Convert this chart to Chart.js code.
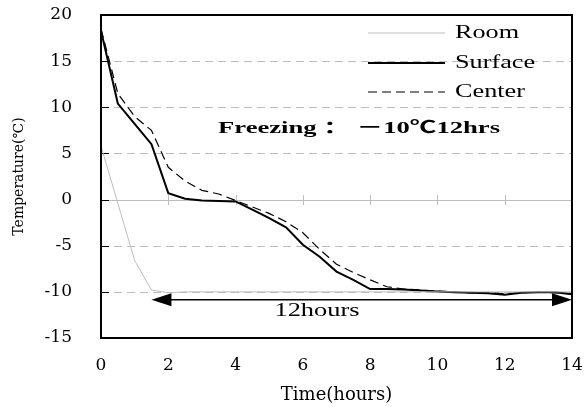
<!DOCTYPE html>
<html><head><meta charset="utf-8">
<script src="https://cdn.jsdelivr.net/npm/chart.js@4"></script>
<style>html,body{margin:0;padding:0;background:#fff}#wrap{width:584px;height:407px}</style>
</head><body><div id="wrap"><canvas id="c" width="584" height="407"></canvas></div>
<script>
const hours = [0,0.5,1,1.5,2,2.5,3,3.5,4,4.5,5,5.5,6,6.5,7,7.5,8,8.5,9,9.5,10,10.5,11,11.5,12,12.5,13,13.5,14];
const roomTemp = [5.8,-0.4,-6.6,-9.8,-10.1,-10.0,-10.0,-10.0,-10.0,-10.0,-10.0,-10.0,-10.0,-10.0,-10.0,-10.0,-10.0,-10.0,-10.0,-10.0,-10.0,-10.0,-10.0,-10.0,-10.0,-10.0,-10.0,-10.0,-10.0];
const surfaceTemp = [18.3,10.4,8.2,6.0,0.7,0.1,-0.1,-0.15,-0.2,-1.1,-2.0,-3.0,-4.9,-6.2,-7.8,-8.7,-9.7,-9.7,-9.75,-9.85,-9.95,-10.05,-10.1,-10.15,-10.3,-10.1,-10.05,-10.05,-10.25];
const centerTemp = [18.5,11.5,9.0,7.5,3.5,2.0,1.0,0.6,-0.1,-0.8,-1.5,-2.4,-3.6,-5.4,-7.0,-7.9,-8.7,-9.45,-9.7,-9.8,-9.9,-10.0,-10.1,-10.1,-10.2,-10.1,-10.05,-10.1,-10.2];
const seriesNames = ['Room','Surface','Center'];
const xTickValues = [0,2,4,6,8,10,12,14];
const yTickValues = [-15,-10,-5,0,5,10,15,20];
const arrowSpan = [1.5, 14];
const arrowLevel = [-10.85];
const noteText = 'Freezing ： －10℃12hrs';
const spanText = '12hours';
const xTitle = 'Time(hours)';
const yTitle = 'Temperature(℃)';

const SERIF = '"DejaVu Serif", "Liberation Serif", "Noto Sans CJK SC", serif';
const TIMES = '"Liberation Serif", "Noto Sans CJK SC", serif';
const toPts = arr => hours.map((h,i)=>({x:h,y:arr[i]}));

function stretchedText(ctx, text, cx, cy, font, targetW){
  ctx.save();
  ctx.font = font;
  ctx.textAlign = 'center'; ctx.textBaseline = 'middle';
  const w = ctx.measureText(text).width;
  const k = targetW / w;
  ctx.translate(cx, cy);
  ctx.scale(k, 1);
  ctx.fillText(text, 0, 0);
  ctx.restore();
}

const decor = {
  id:'decor',
  beforeDatasetsDraw(chart){
    const {ctx, chartArea:a, scales:{x,y}} = chart;
    ctx.save();
    yTickValues.forEach(v=>{
      if (v===yTickValues[0] || v===yTickValues[yTickValues.length-1]) return;
      const py = Math.round(y.getPixelForValue(v))+0.5;
      ctx.beginPath();
      ctx.lineWidth = 1;
      ctx.strokeStyle = '#bdbdbd';
      ctx.setLineDash(v===0 ? [] : [8,5]);
      ctx.moveTo(a.left, py); ctx.lineTo(a.right, py); ctx.stroke();
    });
    ctx.setLineDash([]);
    const y0 = Math.round(y.getPixelForValue(0));
    ctx.strokeStyle = '#bdbdbd';
    xTickValues.forEach(v=>{
      const px = Math.round(x.getPixelForValue(v))+0.5;
      ctx.beginPath(); ctx.moveTo(px, y0-5); ctx.lineTo(px, y0+5); ctx.stroke();
    });
    ctx.strokeStyle = '#000';
    yTickValues.forEach(v=>{
      const py = Math.round(y.getPixelForValue(v))+0.5;
      ctx.beginPath(); ctx.moveTo(a.left, py); ctx.lineTo(a.left+8, py); ctx.stroke();
    });
    ctx.restore();
  },
  afterDatasetsDraw(chart){
    const {ctx, chartArea:a, scales:{x,y}} = chart;
    ctx.save();
    ctx.strokeStyle = '#000'; ctx.lineWidth = 2;
    ctx.strokeRect(a.left, a.top, a.right-a.left, a.bottom-a.top);
    const ay = y.getPixelForValue(arrowLevel[0]);
    const x1 = x.getPixelForValue(arrowSpan[0]);
    const x2 = x.getPixelForValue(arrowSpan[1]);
    const L = 20, H = 6.5;
    ctx.lineWidth = 1.5;
    ctx.beginPath(); ctx.moveTo(x1+L-2, ay); ctx.lineTo(x2-L+2, ay); ctx.stroke();
    ctx.fillStyle = '#000';
    ctx.beginPath(); ctx.moveTo(x1, ay); ctx.lineTo(x1+L, ay-H); ctx.lineTo(x1+L, ay+H); ctx.closePath(); ctx.fill();
    ctx.beginPath(); ctx.moveTo(x2, ay); ctx.lineTo(x2-L, ay-H); ctx.lineTo(x2-L, ay+H); ctx.closePath(); ctx.fill();
    ctx.fillStyle = '#000';
    stretchedText(ctx, spanText, x.getPixelForValue(6.42), y.getPixelForValue(-12.1), '19px ' + TIMES, 85);
    stretchedText(ctx, noteText, x.getPixelForValue(7.67), y.getPixelForValue(7.73), 'bold 17px ' + TIMES, 282);
    const ds = chart.data.datasets;
    const rows = [33, 63, 92];
    ds.forEach((d,i)=>{
      ctx.beginPath();
      ctx.strokeStyle = d.borderColor; ctx.lineWidth = d.borderWidth;
      ctx.setLineDash(d.borderDash || []);
      ctx.moveTo(368, rows[i]); ctx.lineTo(445, rows[i]); ctx.stroke();
      ctx.setLineDash([]);
      ctx.save();
      ctx.font = '19px ' + TIMES;
      ctx.textAlign = 'left'; ctx.textBaseline = 'middle';
      ctx.translate(455, rows[i]); ctx.scale(1.38, 1);
      ctx.fillText(d.label, 0, 0);
      ctx.restore();
    });
    ctx.restore();
  }
};

new Chart(document.getElementById('c'), {
  type: 'line',
  data: {
    datasets: [
      {label: seriesNames[0], data: toPts(roomTemp), borderColor:'#bdbdbd', borderWidth:1, pointRadius:0, tension:0},
      {label: seriesNames[1], data: toPts(surfaceTemp), borderColor:'#000', borderWidth:2, pointRadius:0, tension:0},
      {label: seriesNames[2], data: toPts(centerTemp), borderColor:'#000', borderWidth:1.2, borderDash:[9,5], pointRadius:0, tension:0}
    ]
  },
  options: {
    responsive:false, animation:false, devicePixelRatio:1,
    layout:{padding:{top:15,right:12,left:0,bottom:0}},
    plugins:{legend:{display:false}, tooltip:{enabled:false}},
    scales:{
      x:{type:'linear', min:0, max:14,
         afterBuildTicks: s => { s.ticks = xTickValues.map(v=>({value:v})); },
         afterFit: s => { s.height = 69; s.paddingLeft = 0; s.paddingRight = 0; },
         grid:{display:false}, border:{display:false},
         ticks:{color:'#000', font:{family:SERIF, size:17}, padding:9, maxRotation:0},
         title:{display:true, text:xTitle, color:'#000', font:{family:SERIF, size:18}, padding:{top:0,bottom:1}}
      },
      y:{type:'linear', min:-15, max:20,
         afterBuildTicks: s => { s.ticks = yTickValues.map(v=>({value:v})); },
         afterFit: s => { s.width = 101; s.paddingTop = 0; s.paddingBottom = 0; },
         grid:{display:false}, border:{display:false},
         ticks:{color:'#000', font:{family:SERIF, size:17}, padding:21},
         title:{display:true, text:yTitle, color:'#000', font:{family:SERIF, size:14}, padding:{top:11,bottom:0}}
      }
    }
  },
  plugins:[decor]
});
</script>
</body></html>
